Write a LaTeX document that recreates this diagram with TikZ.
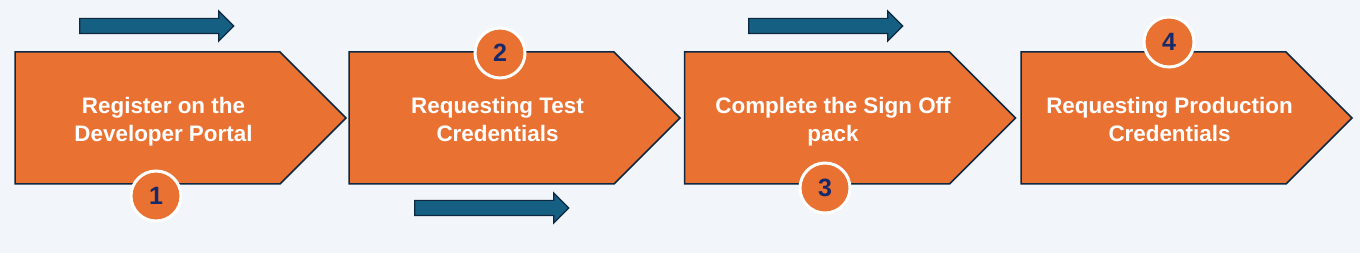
\documentclass[tikz,border=0pt]{standalone}
\usepackage{fontspec}
\setmainfont{Liberation Sans}
\usetikzlibrary{shapes.symbols,shapes.arrows}
\definecolor{bg}{HTML}{F2F5F9}
\definecolor{stepor}{HTML}{E97132}
\definecolor{navy}{HTML}{0E2841}
\definecolor{arrblue}{HTML}{156082}
\definecolor{numblue}{HTML}{15296B}
\begin{document}
\begin{tikzpicture}[x=1pt,y=-1pt,
	st/.style={signal,signal to=east,signal pointer angle=90,draw=navy,line width=1.5pt,fill=stepor,minimum width=331pt,minimum height=132pt,inner sep=0pt},
	tx/.style={text=white,font=\fontsize{22.4}{28}\selectfont\bfseries,align=center},
	num/.style={circle,draw=white,line width=3pt,fill=stepor,minimum size=50pt,inner sep=0pt,text=numblue,font=\fontsize{25}{30}\selectfont\bfseries},
	ar/.style={single arrow,draw=navy,line width=1.2pt,fill=arrblue,minimum height=154pt,minimum width=29pt,single arrow head extend=7.5pt,single arrow tip angle=90,inner xsep=0pt,inner ysep=7pt}]
	\fill[bg] (0,0) rectangle (1360,253);
	\useasboundingbox (0,0) rectangle (1360,253);
	\foreach \i/\x/\t in {1/147.5/{Register on the\strut\\Developer Portal\strut},2/481.5/{Requesting Test\strut\\Credentials\strut},3/817/{Complete the Sign Off\strut\\pack\strut},4/1153.5/{Requesting Production\strut\\Credentials\strut}}{
		\node[st] (s\i) at (\x,118) {};
		\node[tx] (t\i) at ([shift={(16,4.2)}]s\i.center) {\t};
	}
	\foreach \i/\x/\y in {1/156/196,2/500/53,3/825/188,4/1169/42} \node[num] (n\i) at (\x,\y) {\i};
	\foreach \i/\x/\y in {1/153/26,2/488/208,3/822/26} \node[ar] (a\i) at (\x,\y) {};
\end{tikzpicture}
\end{document}
